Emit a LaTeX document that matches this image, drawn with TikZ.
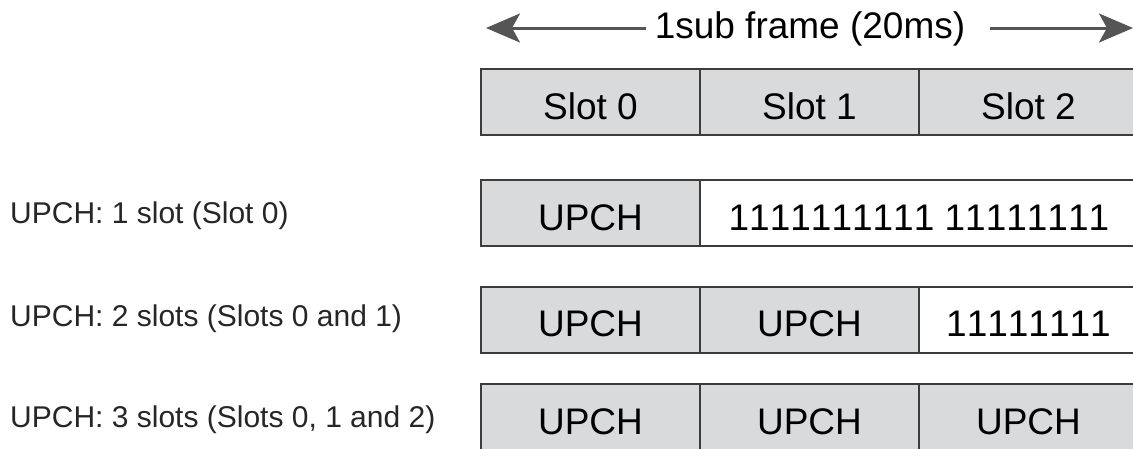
\documentclass[tikz,border=0pt]{standalone}
\usepackage{fontspec}
\setmainfont[Kerning=Off]{Liberation Sans}
\usepackage{tikz}
\usetikzlibrary{arrows.meta}
\usetikzlibrary{positioning}

\definecolor{slotgray}{RGB}{217,218,220}
\definecolor{framegray}{RGB}{60,60,60}
\definecolor{arrowgray}{RGB}{85,85,85}

\begin{document}
\begin{tikzpicture}[x=1pt, y=-1pt]
    \tikzstyle{slot} = [draw=framegray, line width=2pt, fill=slotgray, rectangle,
	minimum width=219pt, minimum height=66pt, inner sep=0pt, outer sep=0pt,
	text height=34pt, text depth=0pt, font=\fontsize{37}{44}\selectfont]
    \tikzstyle{emptyslot} = [slot, fill=white]
    \tikzstyle{rowlabel} = [anchor=west, inner sep=0pt, text=black!85,
	font=\fontsize{30}{36}\selectfont]
    \tikzstyle{spanline} = [-{Stealth[length=34pt, width=29pt, inset=8pt]},
	line width=3pt, draw=arrowgray]

	\useasboundingbox (0,0) rectangle (1133,448);

	% sub frame
	\node[inner sep=0pt, text height=20pt, text depth=0pt,
	font=\fontsize{37}{44}\selectfont] (title) at (810,28) {1sub frame (20ms)};
	\coordinate (ltip) at (486,28);
	\coordinate (rtip) at (1133,28);
	\draw[spanline] ([xshift=-9pt]title.west) -- (ltip);
	\draw[spanline] ([xshift=25pt]title.east) -- (rtip);

	\node[slot] (s0) at (590.5,102) {Slot 0};
	\node[slot, right=0pt of s0] (s1) {Slot 1};
	\node[slot, right=0pt of s1] (s2) {Slot 2};

	% 1 slot
	\node[rowlabel] (la) at (10,216) {UPCH: 1 slot (Slot 0)};
	\node[slot] (a0) at (590.5,213) {UPCH};
	\node[emptyslot, minimum width=438pt, right=0pt of a0] (a1) {1111111111 11111111};

	% 2 slots
	\node[rowlabel] (lb) at (10,319) {UPCH: 2 slots (Slots 0 and 1)};
	\node[slot] (b0) at (590.5,319.5) {UPCH};
	\node[slot, right=0pt of b0] (b1) {UPCH};
	\node[emptyslot, right=0pt of b1] (b2) {11111111};

	% 3 slots
	\node[rowlabel] (lc) at (10,420) {UPCH: 3 slots (Slots 0, 1 and 2)};
	\node[slot] (c0) at (590.5,417) {UPCH};
	\node[slot, right=0pt of c0] (c1) {UPCH};
	\node[slot, right=0pt of c1] (c2) {UPCH};
\end{tikzpicture}
\end{document}
